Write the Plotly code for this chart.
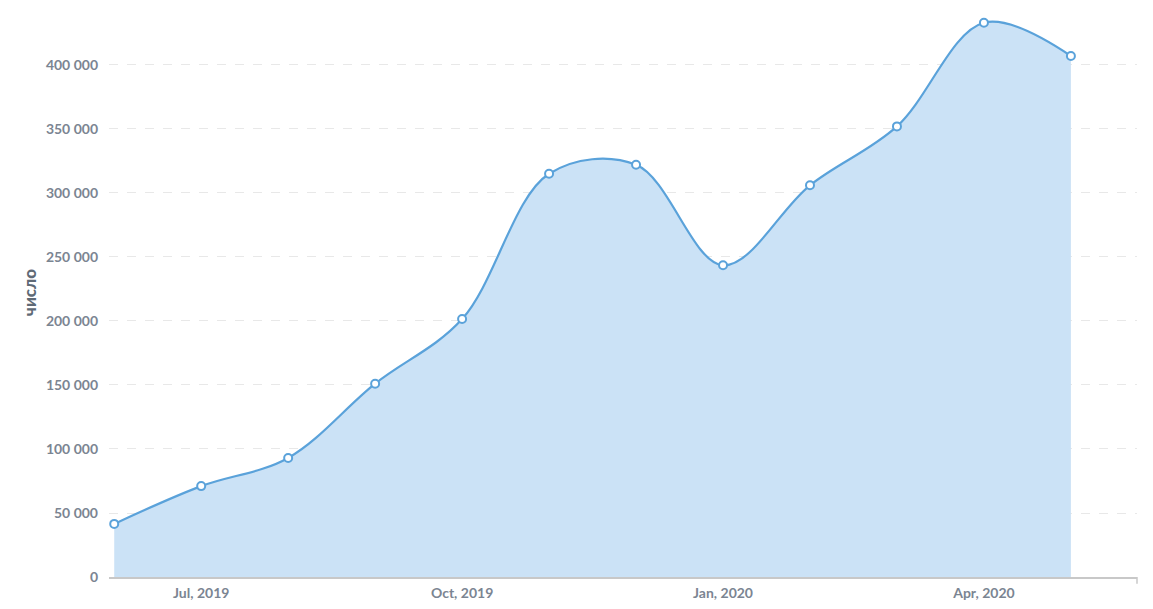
import plotly.graph_objects as go

months = ["Jun, 2019", "Jul, 2019", "Aug, 2019", "Sep, 2019", "Oct, 2019", "Nov, 2019",
          "Dec, 2019", "Jan, 2020", "Feb, 2020", "Mar, 2020", "Apr, 2020", "May, 2020"]
values = [41500, 71000, 93000, 151000, 201500, 315000, 322000, 243500, 306000, 352000, 433000, 407000]
tick_labels = ["Jul, 2019", "Oct, 2019", "Jan, 2020", "Apr, 2020"]
y_ticks = [0, 50000, 100000, 150000, 200000, 250000, 300000, 350000, 400000]

LINE = "#5aa2da"
FILL = "#cbe2f6"
GRAY = "#7b8592"
FONT = "Lato, 'Open Sans', sans-serif"

fig = go.Figure()
fig.add_trace(go.Scatter(
    x=months, y=values, mode="lines+markers",
    line=dict(color=LINE, width=2.2, shape="spline", smoothing=1.0),
    marker=dict(size=8, color="white", line=dict(color=LINE, width=2)),
    fill="tozeroy", fillcolor=FILL, showlegend=False,
))

fig.update_layout(
    width=1145, height=601,
    margin=dict(l=101, r=16, t=0, b=32),
    paper_bgcolor="white", plot_bgcolor="white",
    separators=", ",
    font=dict(family=FONT, color=GRAY, size=14),
    shapes=[dict(type="line", xref="paper", yref="paper", x0=1, x1=1, y0=0, y1=-0.012,
                 line=dict(color="#c8c8c8", width=1.5))],
)
fig.update_xaxes(
    type="category", range=[-0.06, 11.76],
    tickmode="array", tickvals=tick_labels, ticktext=tick_labels,
    showgrid=False, showline=True, linecolor="#c8c8c8", linewidth=1.5,
    tickfont=dict(family=FONT, size=14, color=GRAY, weight="bold"),
    ticks="", zeroline=False, ticklabelstandoff=2,
)
fig.update_yaxes(
    range=[0, 444500], tickvals=y_ticks, tickformat=",d",
    showgrid=True, gridcolor="#e8e8e8", griddash="dash", gridwidth=1,
    zeroline=False, showline=False, ticks="", ticklabelstandoff=10,
    tickfont=dict(family=FONT, size=14, color=GRAY, weight="bold"),
    title=dict(text="число", font=dict(family=FONT, size=17, color="#5f6a76", weight=900), standoff=4),
)

fig.write_html("out.html")
